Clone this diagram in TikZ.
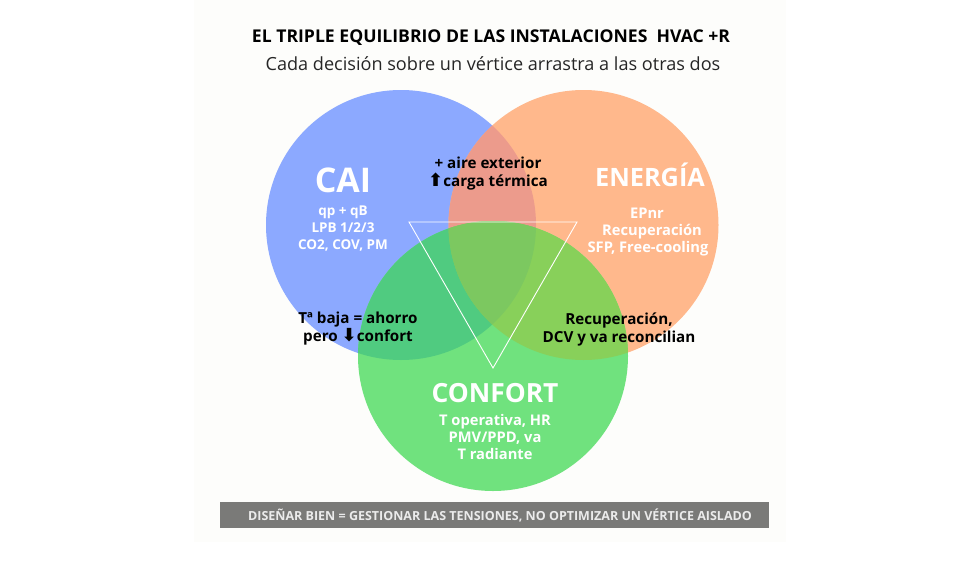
\documentclass[tikz,border=0pt]{standalone}
\usepackage{fontspec}
\setmainfont{Open Sans}
\newfontfamily\symfont{DejaVu Sans}
\definecolor{cardbg}{HTML}{FDFDFB}
\definecolor{caiblue}{RGB}{140,169,255}
\definecolor{enorange}{RGB}{255,184,140}
\definecolor{congreen}{RGB}{112,226,126}
\definecolor{blueorange}{RGB}{236,155,140}
\definecolor{bluegreen}{RGB}{80,203,128}
\definecolor{orangegreen}{RGB}{136,208,90}
\definecolor{triplemix}{RGB}{124,200,96}
\definecolor{bargray}{HTML}{7A7A78}
\newcommand{\fsz}[2]{\fontsize{#1}{#2}\selectfont}
\newcommand{\upar}{{\symfont\fontsize{18}{18}\selectfont ⬆}}
\newcommand{\dnar}{{\symfont\fontsize{18}{18}\selectfont ⬇}}
\newcommand{\cCAI}{(401,225) circle (135pt)}
\newcommand{\cENE}{(583.5,225) circle (135pt)}
\newcommand{\cCON}{(493,356) circle (135pt)}
\tikzset{
  vennc/.style={circle,minimum size=270pt,inner sep=0pt,outer sep=0pt,draw=none},
  head/.style={text=white,font=\bfseries\fsz{#1}{#1},inner sep=0pt},
  wlist/.style={text=white,align=center,font=\bfseries\fsz{#1}{16.6},inner sep=0pt},
  blist/.style={text=black,align=center,font=\bfseries\fsz{15.2}{18},inner sep=0pt},
}
\begin{document}
\begin{tikzpicture}[x=1pt,y=-1pt]
\useasboundingbox (0,0) rectangle (980,560);
\fill[white] (0,0) rectangle (980,560);
\fill[cardbg] (194,0) rectangle (786,542);
\node[vennc,fill=caiblue] (cai) at (401,225) {};
\node[vennc,fill=enorange] (ene) at (583.5,225) {};
\node[vennc,fill=congreen] (con) at (493,356) {};
\begin{scope}\clip \cCAI; \fill[blueorange] \cENE; \fill[bluegreen] \cCON; \end{scope}
\begin{scope}\clip \cENE; \fill[orangegreen] \cCON; \end{scope}
\begin{scope}\clip \cCAI; \clip \cENE; \fill[triplemix] \cCON; \end{scope}
\coordinate (t1) at (409,222);
\coordinate (t2) at (577,222);
\coordinate (t3) at (493,368);
\draw[white,line width=.9pt,line join=miter] (t1) -- (t2) -- (t3) -- cycle;
\node[font=\bfseries\fsz{17.6}{20},inner sep=0pt] (title) at (491,38) {EL TRIPLE EQUILIBRIO DE LAS INSTALACIONES\ \ HVAC +R};
\node[font=\fsz{18.1}{20},inner sep=0pt,text=black!85] (sub) at (493,64) {Cada decisión sobre un vértice arrastra a las otras dos};
\node[head=34] (caih) at (343,180) {CAI};
\node[wlist=13.5] (cail) at (343,228.5) {qp + qB\\LPB 1/2/3\\CO2, COV, PM};
\node[head=25.3] (eneh) at (650,175) {ENERGÍA};
\node[wlist=14.7,anchor=base] (e1) at (647,218.5) {EPnr};
\node[wlist=14.7,anchor=base] (e2) at (652,235.5) {Recuperación};
\node[wlist=14.7,anchor=base] (e3) at (648,252.5) {SFP, Free-cooling};
\node[head=26.4] (conh) at (495,393) {CONFORT};
\node[wlist=14.7] (conl) at (495,437) {T operativa, HR\\PMV/PPD, va\\T radiante};
\node[blist] (ce) at (488,174) {+ aire exterior\\\upar carga térmica};
\node[blist] (cc) at (358,329) {Tª baja = ahorro\\pero \dnar confort};
\node[blist] (ec) at (619,329.5) {Recuperación,\\DCV y va reconcilian};
\node[fill=bargray,minimum width=549pt,minimum height=26pt,inner sep=0pt] (bar) at (494.5,515) {};
\node[text=white!92!black,font=\bfseries\fsz{12.5}{14},inner sep=0pt] (bart) at (500,515) {DISEÑAR BIEN = GESTIONAR LAS TENSIONES, NO OPTIMIZAR UN VÉRTICE AISLADO};
\end{tikzpicture}
\end{document}
